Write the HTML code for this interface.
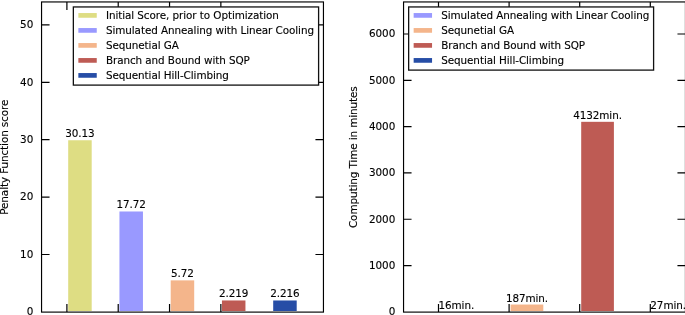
<!DOCTYPE html>
<html><head><meta charset="utf-8"><title>Optimization comparison</title>
<style>html,body{margin:0;padding:0;background:#fff;overflow:hidden}svg{display:block}text{font-family:"DejaVu Sans","Liberation Sans",sans-serif;fill:#000;stroke:#000;stroke-width:0.12px}.t{font-size:10.4px}.l{font-size:10.4px;letter-spacing:-0.075px}.a{font-size:10.4px;letter-spacing:-0.09px}.y{font-size:10.4px;letter-spacing:-0.09px}.s{stroke:#000;stroke-width:1.15;fill:none}.k{stroke:#000;stroke-width:1.2;fill:none}.g{fill:#fff;stroke:#111;stroke-width:1.3}</style></head><body>
<svg width="685" height="315" viewBox="0 0 685 315">
<rect width="685" height="315" fill="#fff"/>
<rect x="68.20" y="140.25" width="23.50" height="170.75" fill="#dedd83"/>
<rect x="119.45" y="211.49" width="23.50" height="99.51" fill="#9999ff"/>
<rect x="170.70" y="280.37" width="23.50" height="30.63" fill="#f4b58b"/>
<rect x="221.95" y="300.46" width="23.50" height="10.54" fill="#be5b54"/>
<rect x="273.20" y="300.48" width="23.50" height="10.52" fill="#264da6"/>
<path class="k" d="M66.90 312.10v-8 M66.90 1.95v8"/>
<path class="k" d="M118.22 312.10v-8 M118.22 1.95v8"/>
<path class="k" d="M169.54 312.10v-8 M169.54 1.95v8"/>
<path class="k" d="M220.86 312.10v-8 M220.86 1.95v8"/>
<text class="t" x="33.35" y="315.40" text-anchor="end">0</text>
<path class="k" d="M41.55 254.50h8 M323.45 254.50h-8"/>
<text class="t" x="33.35" y="257.80" text-anchor="end">10</text>
<path class="k" d="M41.55 197.10h8 M323.45 197.10h-8"/>
<text class="t" x="33.35" y="200.40" text-anchor="end">20</text>
<path class="k" d="M41.55 139.70h8 M323.45 139.70h-8"/>
<text class="t" x="33.35" y="143.00" text-anchor="end">30</text>
<path class="k" d="M41.55 82.30h8 M323.45 82.30h-8"/>
<text class="t" x="33.35" y="85.60" text-anchor="end">40</text>
<path class="k" d="M41.55 24.90h8 M323.45 24.90h-8"/>
<text class="t" x="33.35" y="28.20" text-anchor="end">50</text>
<text class="a" x="79.95" y="137.25" text-anchor="middle">30.13</text>
<text class="a" x="131.20" y="208.49" text-anchor="middle">17.72</text>
<text class="a" x="182.45" y="277.37" text-anchor="middle">5.72</text>
<text class="a" x="233.70" y="297.46" text-anchor="middle">2.219</text>
<text class="a" x="284.95" y="297.48" text-anchor="middle">2.216</text>
<rect class="s" x="41.55" y="1.95" width="281.90" height="310.15"/>
<text class="y" transform="translate(8.00 157.2) rotate(-90)" text-anchor="middle">Penalty Function score</text>
<rect class="g" x="73.35" y="6.95" width="245.25" height="78.15"/>
<rect x="78.35" y="13.05" width="18.4" height="4.7" fill="#dedd83"/>
<text class="l" x="105.90" y="19.05">Initial Score, prior to Optimization</text>
<rect x="78.35" y="28.05" width="18.4" height="4.7" fill="#9999ff"/>
<text class="l" x="105.90" y="34.05">Simulated Annealing with Linear Cooling</text>
<rect x="78.35" y="43.05" width="18.4" height="4.7" fill="#f4b58b"/>
<text class="l" x="105.90" y="49.05">Sequnetial GA</text>
<rect x="78.35" y="58.05" width="18.4" height="4.7" fill="#be5b54"/>
<text class="l" x="105.90" y="64.05">Branch and Bound with SQP</text>
<rect x="78.35" y="73.05" width="18.4" height="4.7" fill="#264da6"/>
<text class="l" x="105.90" y="79.05">Sequential Hill-Climbing</text>
<rect x="510.60" y="304.54" width="32.70" height="6.46" fill="#f4b58b"/>
<rect x="581.20" y="121.82" width="32.70" height="189.18" fill="#be5b54"/>
<path class="k" d="M438.50 312.10v-8 M438.50 1.95v8"/>
<path class="k" d="M509.10 312.10v-8 M509.10 1.95v8"/>
<path class="k" d="M579.70 312.10v-8 M579.70 1.95v8"/>
<path class="k" d="M650.30 312.10v-8 M650.30 1.95v8"/>
<text class="t" x="395.35" y="315.40" text-anchor="end">0</text>
<path class="k" d="M403.55 265.58h8 M685.45 265.58h-8"/>
<text class="t" x="395.35" y="268.88" text-anchor="end">1000</text>
<path class="k" d="M403.55 219.27h8 M685.45 219.27h-8"/>
<text class="t" x="395.35" y="222.57" text-anchor="end">2000</text>
<path class="k" d="M403.55 172.95h8 M685.45 172.95h-8"/>
<text class="t" x="395.35" y="176.25" text-anchor="end">3000</text>
<path class="k" d="M403.55 126.63h8 M685.45 126.63h-8"/>
<text class="t" x="395.35" y="129.93" text-anchor="end">4000</text>
<path class="k" d="M403.55 80.32h8 M685.45 80.32h-8"/>
<text class="t" x="395.35" y="83.62" text-anchor="end">5000</text>
<path class="k" d="M403.55 34.00h8 M685.45 34.00h-8"/>
<text class="t" x="395.35" y="37.30" text-anchor="end">6000</text>
<text class="a" x="456.35" y="309.46" text-anchor="middle">16min.</text>
<text class="a" x="526.95" y="301.54" text-anchor="middle">187min.</text>
<text class="a" x="597.55" y="118.82" text-anchor="middle">4132min.</text>
<text class="a" x="668.15" y="308.95" text-anchor="middle">27min.</text>
<rect class="s" x="403.55" y="1.95" width="281.90" height="310.15"/>
<text class="y" transform="translate(356.60 157.2) rotate(-90)" text-anchor="middle">Computing Time in minutes</text>
<rect class="g" x="408.65" y="6.95" width="244.95" height="63.15"/>
<rect x="413.65" y="13.05" width="18.4" height="4.7" fill="#9999ff"/>
<text class="l" x="441.20" y="19.05">Simulated Annealing with Linear Cooling</text>
<rect x="413.65" y="28.05" width="18.4" height="4.7" fill="#f4b58b"/>
<text class="l" x="441.20" y="34.05">Sequnetial GA</text>
<rect x="413.65" y="43.05" width="18.4" height="4.7" fill="#be5b54"/>
<text class="l" x="441.20" y="49.05">Branch and Bound with SQP</text>
<rect x="413.65" y="58.05" width="18.4" height="4.7" fill="#264da6"/>
<text class="l" x="441.20" y="64.05">Sequential Hill-Climbing</text>
</svg></body></html>
